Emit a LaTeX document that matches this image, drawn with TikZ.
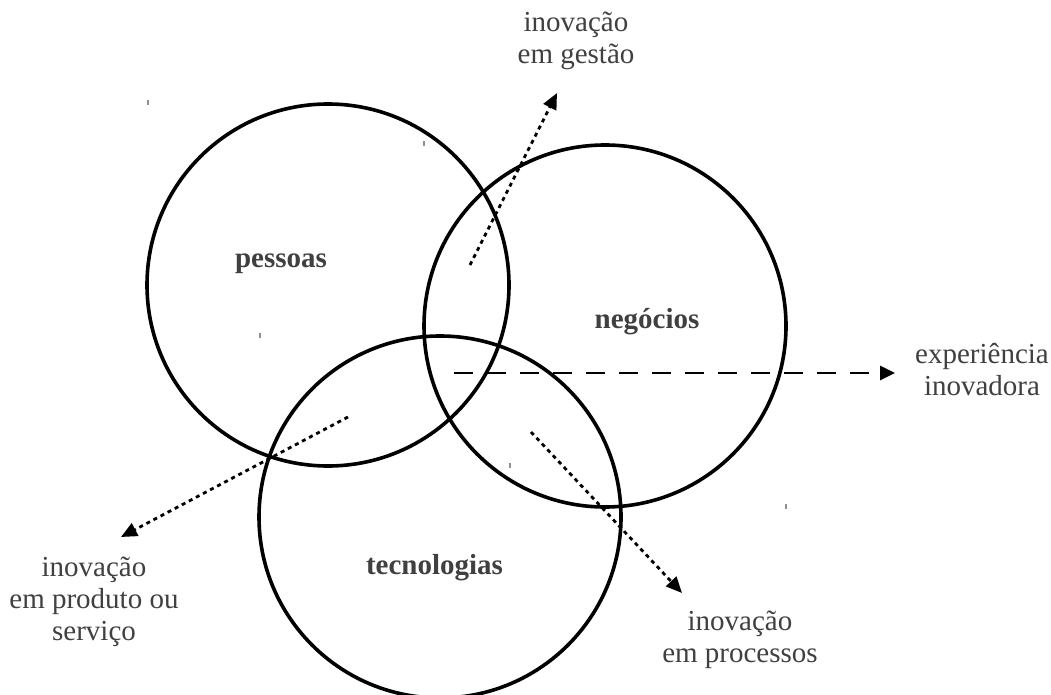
\documentclass[tikz,border=0pt]{standalone}
\usepackage{fontspec}
\setmainfont{Liberation Serif}
\usetikzlibrary{arrows.meta}
\definecolor{txtgray}{HTML}{404040}
\definecolor{tickgray}{HTML}{909090}
\begin{document}
\begin{tikzpicture}[x=1pt,y=-1pt,
  ring/.style={circle, draw=black, line width=3.6pt, minimum size=362pt, inner sep=0pt},
  lbl/.style={font=\fontsize{29}{32}\selectfont, text=txtgray, align=center, inner sep=0pt, anchor=base},
  blbl/.style={lbl, font=\fontsize{29}{32}\selectfont\bfseries},
  dotarrow/.style={line width=2.8pt, dash pattern=on 4pt off 4pt, -{Triangle[length=16pt,width=14pt]}},
  dasharrow/.style={line width=2.8pt, dash pattern=on 19pt off 14pt, -{Triangle[length=15pt,width=14pt]}},
  tickmark/.style={draw=tickgray, line width=1.3pt}]
\useasboundingbox (0,0) rectangle (1051,695);
\fill[white] (0,0) rectangle (1051,695);

% circles
\node[ring] (cpessoas) at (328,285) {};
\node[ring] (cnegocios) at (605,326) {};
\node[ring] (ctecno) at (440,517) {};

% circle labels
\node[blbl] (tpessoas) at (281,267) {pessoas};
\node[blbl] (tnegocios) at (647,328) {negócios};
\node[blbl] (ttecno) at (434.5,574) {tecnologias};

% outer labels (base anchor = baseline of last line)
\node[lbl] (lgestao) at (576,64) {inovação\\em gestão};
\node[lbl] (lproduto) at (94,640) {inovação\\em produto ou\\serviço};
\node[lbl] (lprocessos) at (740,662) {inovação\\em processos};
\node[lbl] (lexper) at (982,395) {experiência\\inovadora};

% arrow end points
\coordinate (sgestao) at (470,265);
\coordinate (egestao) at (557,93);
\coordinate (sproduto) at (348,417);
\coordinate (eproduto) at (121,537);
\coordinate (sprocessos) at (531,432);
\coordinate (eprocessos) at (682,593);
\coordinate (sexper) at (454,373);
\coordinate (eexper) at (895,373);

\draw[dotarrow] (sgestao) -- (egestao);
\draw[dotarrow] (sproduto) -- (eproduto);
\draw[dotarrow] (sprocessos) -- (eprocessos);
\draw[dasharrow] (sexper) -- (eexper);

% small stray ticks
\draw[tickmark] (148,100.5) -- (148,105.5);
\draw[tickmark] (424,141.5) -- (424,146.5);
\draw[tickmark] (260,332.5) -- (260,337.5);
\draw[tickmark] (510,462.5) -- (510,467.5);
\draw[tickmark] (786,503.5) -- (786,508.5);
\end{tikzpicture}
\end{document}
